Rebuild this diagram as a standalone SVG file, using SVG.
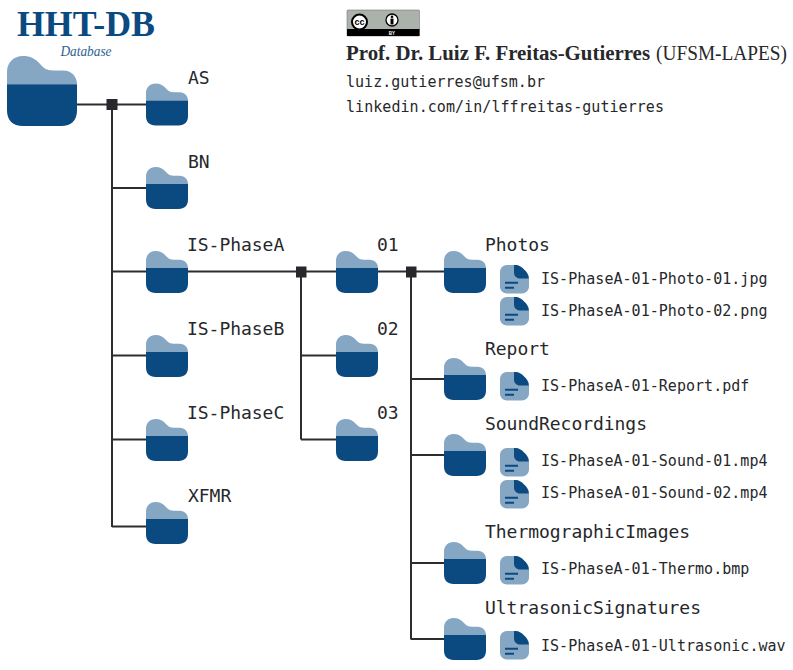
<svg xmlns="http://www.w3.org/2000/svg" width="793" height="670" viewBox="0 0 793 670">
<style>
.m{font-family:"DejaVu Sans Mono","Liberation Mono",monospace;fill:#26282b}
.l{font-size:18px;letter-spacing:-.04px}
.f{font-size:15px;letter-spacing:.03px}
.c{stroke:#2b2d30;stroke-width:2;fill:none}
.s{font-family:"Liberation Serif",serif}
</style>
<defs>
<g id="folder">
<path d="M0 17V9.500C0 4 4 0 9.500 0C14 0 17 1.500 20 5C22.500 8 24.500 8.700 28 8.700H33.500C39 8.700 42 12.500 42 17Z" fill="#86a7c4"/>
<path d="M0 17H42V32.500C42 38.500 38.500 42 32.500 42H9.500C3.500 42 0 38.500 0 32.500Z" fill="#0b4a80"/>
</g>
<g id="file">
<path d="M7 0H15C19 0 21 1.500 24 4.500C27 7.500 29 9.500 29 13.500V21.500C29 25.500 25.500 28.500 22 28.500H7C3 28.500 0 25.500 0 21.500V7C0 3 3 0 7 0Z" fill="#86a7c4"/>
<path d="M14 0H15C19 0 21 1.500 24 4.500C27 7.500 28.500 9.500 28.800 13.500H20C16.500 13.500 14 11 14 7.500Z" fill="#0b4a80"/>
<path d="M5 17.800H18M5 22.800H14" stroke="#0b4a80" stroke-width="2" fill="none"/>
</g>
</defs>
<g id="connectors">
<path class="c" d="M77 104.500H146M112 104.500V527M112 188H146M112 271.500H336M112 355.500H146M112 439.500H146M112 526.500H146M301 271.500V439.500M301 355.500H336M301 439.500H336M378 271.500H444M411 271.500V639.500M411 379H444M411 455H444M411 563H444M411 639H444"/>
<rect x="106.500" y="99" width="11" height="11" fill="#26282b"/>
<rect x="296" y="266.500" width="10.500" height="11" fill="#26282b"/>
<rect x="406" y="266.500" width="10.500" height="11" fill="#26282b"/>
</g>
<g id="title">
<text class="s" x="17" y="35.500" font-size="36" font-weight="700" fill="#0b4a80" textLength="138" lengthAdjust="spacingAndGlyphs">HHT-DB</text>
<text class="s" x="60.500" y="56" font-size="14" font-style="italic" fill="#2f6293" textLength="51" lengthAdjust="spacingAndGlyphs">Database</text>
</g>
<g id="license">
<rect x="347" y="10" width="72.500" height="26" rx="1" fill="#aab2ab" stroke="#777" stroke-width=".6"/>
<rect x="347" y="29" width="72.500" height="7" fill="#000"/>
<circle cx="359.500" cy="22" r="7.500" fill="#fff" stroke="#000" stroke-width="2"/>
<text x="359.500" y="25" text-anchor="middle" font-family="Liberation Sans,sans-serif" font-size="9" font-weight="700" fill="#000">cc</text>
<circle cx="392" cy="20" r="6" fill="#fff" stroke="#000" stroke-width="1.300"/>
<circle cx="392" cy="16.800" r="1.300" fill="#000"/>
<rect x="390.500" y="18.500" width="3" height="6" fill="#000"/>
<text x="392" y="34.800" text-anchor="middle" font-family="Liberation Sans,sans-serif" font-size="4.500" font-weight="700" fill="#fff">BY</text>
</g>
<g id="author">
<text class="s" x="346" y="60" font-size="20" font-weight="700" fill="#26282b" textLength="304" lengthAdjust="spacingAndGlyphs">Prof. Dr. Luiz F. Freitas-Gutierres</text>
<text class="s" x="656" y="60" font-size="20" fill="#26282b" textLength="131" lengthAdjust="spacingAndGlyphs">(UFSM-LAPES)</text>
<text class="m f" x="346" y="86.500" textLength="199">luiz.gutierres@ufsm.br</text>
<text class="m f" x="346" y="111.500" textLength="318">linkedin.com/in/lffreitas-gutierres</text>
</g>
<g id="database"><use href="#folder" transform="translate(7 56) scale(1.667)"/></g>
<g id="AS"><use href="#folder" x="146" y="83.500"/><text class="m l" x="188" y="83.500">AS</text></g>
<g id="BN"><use href="#folder" x="146" y="167"/><text class="m l" x="188" y="167.500">BN</text></g>
<g id="IS-PhaseA"><use href="#folder" x="146" y="251"/><text class="m l" x="187" y="250.500">IS-PhaseA</text></g>
<g id="IS-PhaseB"><use href="#folder" x="146" y="335"/><text class="m l" x="187" y="334.500">IS-PhaseB</text></g>
<g id="IS-PhaseC"><use href="#folder" x="146" y="419"/><text class="m l" x="187" y="418.500">IS-PhaseC</text></g>
<g id="XFMR"><use href="#folder" x="146" y="502"/><text class="m l" x="188" y="502">XFMR</text></g>
<g id="n01"><use href="#folder" x="336" y="251"/><text class="m l" x="377" y="250.500">01</text></g>
<g id="n02"><use href="#folder" x="336" y="335"/><text class="m l" x="377" y="334.500">02</text></g>
<g id="n03"><use href="#folder" x="336" y="419"/><text class="m l" x="377" y="418.500">03</text></g>
<g id="Photos"><use href="#folder" x="444" y="251"/><text class="m l" x="485" y="250.500">Photos</text></g>
<g id="Report"><use href="#folder" x="444" y="358"/><text class="m l" x="485" y="354.500">Report</text></g>
<g id="SoundRecordings"><use href="#folder" x="444" y="434"/><text class="m l" x="485" y="430">SoundRecordings</text></g>
<g id="ThermographicImages"><use href="#folder" x="444" y="542"/><text class="m l" x="485" y="538">ThermographicImages</text></g>
<g id="UltrasonicSignatures"><use href="#folder" x="444" y="618"/><text class="m l" x="485" y="614">UltrasonicSignatures</text></g>
<g id="photo1"><use href="#file" x="500" y="265"/><text class="m f" x="541" y="283.500">IS-PhaseA-01-Photo-01.jpg</text></g>
<g id="photo2"><use href="#file" x="500" y="297"/><text class="m f" x="541" y="315.500">IS-PhaseA-01-Photo-02.png</text></g>
<g id="report"><use href="#file" x="500" y="372"/><text class="m f" x="541" y="390.500">IS-PhaseA-01-Report.pdf</text></g>
<g id="sound1"><use href="#file" x="500" y="448"/><text class="m f" x="541" y="466">IS-PhaseA-01-Sound-01.mp4</text></g>
<g id="sound2"><use href="#file" x="500" y="480"/><text class="m f" x="541" y="498">IS-PhaseA-01-Sound-02.mp4</text></g>
<g id="thermo"><use href="#file" x="500" y="556"/><text class="m f" x="541" y="574">IS-PhaseA-01-Thermo.bmp</text></g>
<g id="ultra"><use href="#file" x="500" y="631"/><text class="m f" x="541" y="651">IS-PhaseA-01-Ultrasonic.wav</text></g>
</svg>
